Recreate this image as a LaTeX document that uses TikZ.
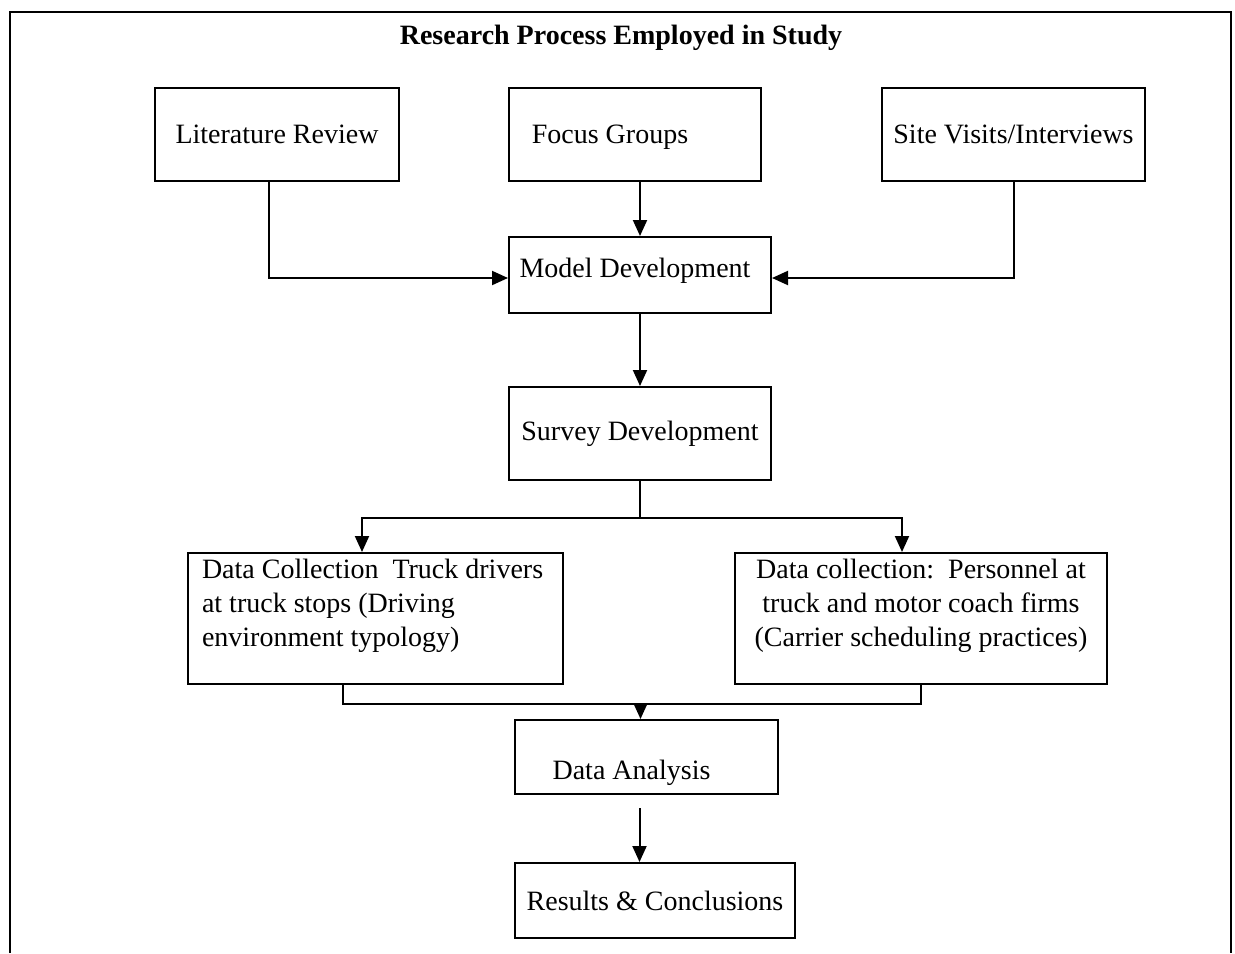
\documentclass[tikz,border=0pt]{standalone}
\usepackage{fontspec}
\setmainfont{Liberation Serif}
\usetikzlibrary{arrows.meta}
% move a one-line label inside its box: #1 = twice the sideways shift, #2 = lift
\newcommand\nudge[3]{\raisebox{#2}[\height][\depth]{\hspace*{#1}#3}}
\begin{document}
\begin{tikzpicture}[x=0.5pt,y=-0.5pt,
  txt/.style={font=\fontsize{14}{17}\selectfont},
  box/.style={txt, draw, line width=1pt, inner sep=0pt},
  conn/.style={line width=1pt},
  arr/.style={conn, -{Triangle[length=8pt,width=7pt]}},
  frameline/.style={line width=1pt}]
\useasboundingbox (0,0) rectangle (1235,953);

% outer frame (open at the bottom)
\draw[frameline] (10,953) -- (10,12) -- (1231,12) -- (1231,953);

\node[txt, font=\fontsize{14}{17}\selectfont\bfseries] (title) at (621,38) {Research Process Employed in Study};

% first row
\node[box, minimum width=122pt, minimum height=46.5pt] (lit) at (277,134.5) {Literature Review};
\node[box, minimum width=126pt, minimum height=46.5pt] (focus) at (635,134.5) {\nudge{-25pt}{-1.5pt}{Focus Groups}};
\node[box, minimum width=131.5pt, minimum height=46.5pt] (site) at (1013.5,134.5) {Site Visits/Interviews};

% middle column
\node[box, minimum width=131pt, minimum height=38pt] (model) at (640,275) {\nudge{-5pt}{2pt}{Model Development}};
\node[box, minimum width=131pt, minimum height=46.5pt] (survey) at (640,433.5) {Survey Development};

% data collection
\node[box, inner xsep=7pt, inner ysep=3pt] (dcl) at (375.5,618.5)
  {\parbox[c][59.5pt][t]{173.5pt}{\raggedright\baselineskip=17pt
   Data Collection\ \ Truck drivers\\ at truck stops (Driving\\ environment typology)}};
\node[box, inner xsep=4pt, inner ysep=3pt] (dcr) at (921,618.5)
  {\parbox[c][59.5pt][t]{178pt}{\centering\baselineskip=17pt
   Data collection:\ \ Personnel at\\ truck and motor coach firms\\ (Carrier scheduling practices)}};

% analysis and results
\node[box, minimum width=131.5pt, minimum height=37pt] (anal) at (646.5,757) {\nudge{-15pt}{-8pt}{Data Analysis}};
\node[box, minimum width=140pt, minimum height=37.5pt] (res) at (655,900.5) {Results \& Conclusions};

% connectors into Model Development
\draw[arr] (lit.south) ++(-4pt,0) |- ([yshift=-1.5pt]model.west);
\draw[arr] (site.south) |- ([yshift=-1.5pt]model.east);
\draw[arr] (model.north |- focus.south) -- (model.north);
\draw[arr] (model.south) -- (survey.north);

% split to the two data collection boxes
\coordinate (split) at ([yshift=-18.5pt]survey.south);
\draw[conn] (survey.south) -- (split);
\draw[arr] (split) -| ([xshift=-6.75pt]dcl.north);
\draw[arr] (split) -| ([xshift=-9.5pt]dcr.north);

% join into Data Analysis
\coordinate (join) at ([yshift=-9.5pt]dcl.south);
\draw[conn] ([xshift=-16.25pt]dcl.south) |- (join -| dcr.south) -- (dcr.south);
\draw[arr] ([xshift=-3pt]anal.north |- join) -- ([xshift=-3pt]anal.north);

\draw[arr] ([xshift=-3.5pt,yshift=-6.5pt]anal.south) -- ([xshift=-3.5pt]anal.south |- res.north);
\end{tikzpicture}
\end{document}
